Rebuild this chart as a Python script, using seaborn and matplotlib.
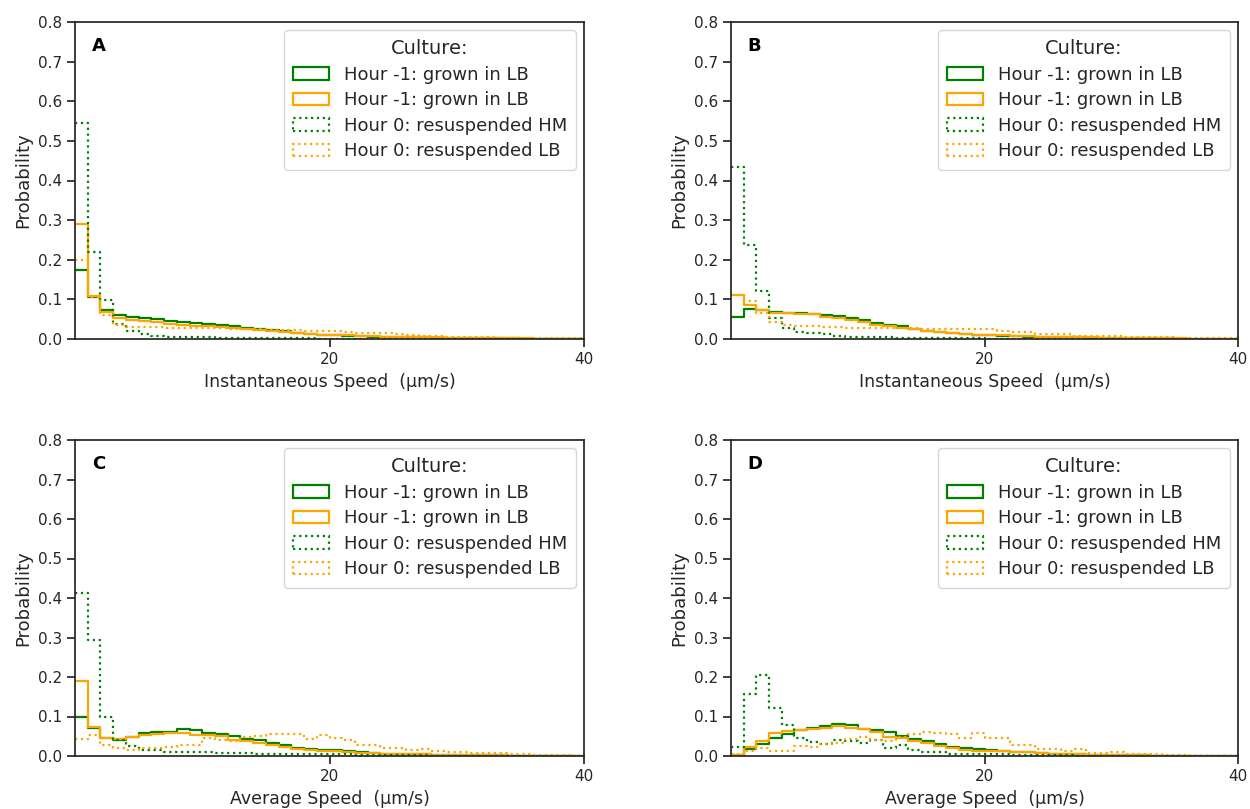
import numpy as np
import pandas as pd
import matplotlib
matplotlib.use("Agg")
import matplotlib.pyplot as plt
import matplotlib.patches as mpatches
import seaborn as sns

# ---------------- data (bin probabilities, bins of width 1 from 0 to 40) ----------------
bin_edges = list(range(0, 41))
bin_centers = [e + 0.5 for e in range(0, 40)]

series_labels = ["Hour -1: grown in LB", "Hour -1: grown in LB",
                 "Hour 0: resuspended HM", "Hour 0: resuspended LB"]
panel_letters = ["A", "B", "C", "D"]
x_labels = ["Instantaneous Speed  (µm/s)", "Instantaneous Speed  (µm/s)",
            "Average Speed  (µm/s)", "Average Speed  (µm/s)"]
y_ticks = [0.0, 0.1, 0.2, 0.3, 0.4, 0.5, 0.6, 0.7, 0.8]
x_ticks = [20, 40]

A_green_solid = [0.175, 0.105, 0.072, 0.060, 0.056, 0.053, 0.050, 0.046, 0.044, 0.041,
                 0.039, 0.036, 0.032, 0.028, 0.025, 0.023, 0.019, 0.016, 0.013, 0.011,
                 0.009, 0.008, 0.007, 0.006, 0.005, 0.005, 0.004, 0.004, 0.003, 0.003,
                 0.003, 0.002, 0.002, 0.002, 0.002, 0.001, 0.001, 0.001, 0.001, 0.001]
A_orange_solid = [0.290, 0.108, 0.068, 0.052, 0.048, 0.045, 0.042, 0.039, 0.036, 0.034,
                  0.032, 0.030, 0.027, 0.025, 0.023, 0.021, 0.018, 0.015, 0.013, 0.011,
                  0.010, 0.009, 0.008, 0.007, 0.006, 0.005, 0.005, 0.004, 0.004, 0.003,
                  0.003, 0.003, 0.002, 0.002, 0.002, 0.002, 0.001, 0.001, 0.001, 0.001]
A_green_dot = [0.545, 0.220, 0.098, 0.038, 0.020, 0.012, 0.008, 0.006, 0.005, 0.004,
               0.004, 0.003, 0.003, 0.003, 0.002, 0.002, 0.002, 0.002, 0.002, 0.001,
               0.001, 0.001, 0.001, 0.001, 0.001, 0.001, 0.001, 0.001, 0.001, 0.001,
               0.000, 0.000, 0.000, 0.000, 0.000, 0.000, 0.000, 0.000, 0.000, 0.000]
A_orange_dot = [0.200, 0.105, 0.060, 0.035, 0.031, 0.030, 0.030, 0.029, 0.029, 0.028,
                0.028, 0.027, 0.026, 0.025, 0.024, 0.023, 0.022, 0.022, 0.021, 0.021,
                0.020, 0.018, 0.016, 0.015, 0.014, 0.012, 0.010, 0.008, 0.007, 0.006,
                0.005, 0.004, 0.004, 0.003, 0.003, 0.003, 0.002, 0.002, 0.002, 0.002]

B_green_solid = [0.056, 0.075, 0.072, 0.067, 0.066, 0.066, 0.063, 0.061, 0.057, 0.053,
                 0.047, 0.041, 0.036, 0.032, 0.026, 0.021, 0.018, 0.016, 0.013, 0.011,
                 0.009, 0.008, 0.007, 0.006, 0.005, 0.005, 0.004, 0.004, 0.003, 0.003,
                 0.003, 0.002, 0.002, 0.002, 0.002, 0.001, 0.001, 0.001, 0.001, 0.001]
B_orange_solid = [0.111, 0.086, 0.073, 0.066, 0.065, 0.063, 0.062, 0.056, 0.053, 0.048,
                  0.042, 0.036, 0.032, 0.028, 0.024, 0.021, 0.018, 0.015, 0.013, 0.011,
                  0.010, 0.009, 0.008, 0.007, 0.006, 0.005, 0.005, 0.004, 0.004, 0.003,
                  0.003, 0.003, 0.002, 0.002, 0.002, 0.002, 0.001, 0.001, 0.001, 0.001]
B_green_dot = [0.435, 0.237, 0.120, 0.053, 0.027, 0.018, 0.016, 0.012, 0.008, 0.006,
               0.005, 0.004, 0.004, 0.003, 0.003, 0.002, 0.002, 0.002, 0.002, 0.002,
               0.001, 0.001, 0.001, 0.001, 0.001, 0.001, 0.001, 0.001, 0.001, 0.001,
               0.000, 0.000, 0.000, 0.000, 0.000, 0.000, 0.000, 0.000, 0.000, 0.000]
B_orange_dot = [0.110, 0.095, 0.065, 0.044, 0.035, 0.032, 0.032, 0.031, 0.031, 0.029,
                0.028, 0.028, 0.028, 0.027, 0.027, 0.026, 0.025, 0.025, 0.025, 0.025,
                0.024, 0.019, 0.018, 0.018, 0.013, 0.013, 0.012, 0.008, 0.008, 0.008,
                0.007, 0.006, 0.004, 0.004, 0.004, 0.003, 0.003, 0.003, 0.002, 0.002]

C_green_solid = [0.100, 0.072, 0.045, 0.040, 0.049, 0.058, 0.062, 0.062, 0.068, 0.065,
                 0.058, 0.055, 0.051, 0.043, 0.040, 0.034, 0.027, 0.021, 0.017, 0.015,
                 0.014, 0.012, 0.009, 0.008, 0.006, 0.005, 0.005, 0.004, 0.003, 0.003,
                 0.003, 0.002, 0.002, 0.002, 0.001, 0.001, 0.001, 0.001, 0.001, 0.001]
C_orange_solid = [0.191, 0.074, 0.045, 0.043, 0.049, 0.053, 0.055, 0.058, 0.058, 0.053,
                  0.053, 0.050, 0.040, 0.038, 0.032, 0.028, 0.024, 0.018, 0.014, 0.013,
                  0.012, 0.010, 0.008, 0.007, 0.006, 0.005, 0.004, 0.004, 0.003, 0.003,
                  0.002, 0.002, 0.002, 0.002, 0.001, 0.001, 0.001, 0.001, 0.001, 0.001]
C_green_dot = [0.413, 0.294, 0.098, 0.040, 0.025, 0.015, 0.015, 0.011, 0.011, 0.011,
               0.011, 0.008, 0.008, 0.008, 0.006, 0.006, 0.005, 0.005, 0.005, 0.004,
               0.004, 0.004, 0.003, 0.003, 0.003, 0.002, 0.002, 0.002, 0.001, 0.001,
               0.001, 0.001, 0.001, 0.001, 0.000, 0.000, 0.000, 0.000, 0.000, 0.000]
C_orange_dot = [0.042, 0.053, 0.028, 0.020, 0.015, 0.020, 0.020, 0.024, 0.029, 0.029,
                0.045, 0.040, 0.038, 0.047, 0.050, 0.056, 0.055, 0.055, 0.042, 0.053,
                0.045, 0.040, 0.028, 0.028, 0.020, 0.020, 0.014, 0.018, 0.012, 0.010,
                0.010, 0.008, 0.008, 0.008, 0.005, 0.004, 0.003, 0.002, 0.002, 0.001]

D_green_solid = [0.002, 0.017, 0.030, 0.045, 0.055, 0.066, 0.072, 0.077, 0.081, 0.079,
                 0.068, 0.066, 0.060, 0.051, 0.043, 0.037, 0.030, 0.024, 0.019, 0.017,
                 0.016, 0.013, 0.010, 0.009, 0.007, 0.006, 0.005, 0.004, 0.003, 0.003,
                 0.002, 0.002, 0.002, 0.001, 0.001, 0.001, 0.001, 0.001, 0.001, 0.001]
D_orange_solid = [0.003, 0.022, 0.038, 0.057, 0.064, 0.066, 0.068, 0.072, 0.075, 0.072,
                  0.068, 0.062, 0.048, 0.045, 0.037, 0.032, 0.026, 0.020, 0.016, 0.013,
                  0.013, 0.012, 0.010, 0.009, 0.008, 0.006, 0.005, 0.004, 0.003, 0.003,
                  0.002, 0.002, 0.002, 0.001, 0.001, 0.001, 0.001, 0.001, 0.001, 0.001]
D_green_dot = [0.023, 0.156, 0.205, 0.122, 0.078, 0.045, 0.036, 0.031, 0.040, 0.037,
               0.032, 0.040, 0.020, 0.028, 0.015, 0.011, 0.011, 0.006, 0.006, 0.005,
               0.004, 0.004, 0.003, 0.003, 0.002, 0.002, 0.002, 0.001, 0.001, 0.001,
               0.001, 0.001, 0.000, 0.000, 0.000, 0.000, 0.000, 0.000, 0.000, 0.000]
D_orange_dot = [0.005, 0.013, 0.020, 0.013, 0.013, 0.026, 0.023, 0.030, 0.034, 0.043,
                0.047, 0.040, 0.038, 0.048, 0.055, 0.060, 0.059, 0.056, 0.046, 0.057,
                0.045, 0.045, 0.028, 0.028, 0.017, 0.017, 0.012, 0.017, 0.008, 0.008,
                0.010, 0.004, 0.004, 0.004, 0.002, 0.002, 0.001, 0.001, 0.001, 0.001]

panels = [
    [A_green_solid, A_orange_solid, A_green_dot, A_orange_dot],
    [B_green_solid, B_orange_solid, B_green_dot, B_orange_dot],
    [C_green_solid, C_orange_solid, C_green_dot, C_orange_dot],
    [D_green_solid, D_orange_solid, D_green_dot, D_orange_dot],
]

# ---------------- styling ----------------
series_colors = ["green", "orange", "green", "orange"]
series_styles = ["-", "-", ":", ":"]

sns.set_theme(style="ticks")
plt.rcParams["font.family"] = ["DejaVu Sans"]
plt.rcParams["xtick.labelsize"] = 11
plt.rcParams["ytick.labelsize"] = 11

W, H = 1250, 809
fig = plt.figure(figsize=(W / 100, H / 100), dpi=100)

# axes rectangles in pixels: left, right, top, bottom
rects = [(75, 584, 22, 339), (731, 1238, 22, 339),
         (75, 584, 440, 756), (731, 1238, 440, 756)]

for i, (l, r, t, b) in enumerate(rects):
    ax = fig.add_axes([l / W, 1 - b / H, (r - l) / W, (b - t) / H])
    for vals, col, ls in zip(panels[i], series_colors, series_styles):
        sns.histplot(x=bin_centers, weights=vals, bins=bin_edges, stat="count",
                     element="step", fill=False, color=col, linestyle=ls,
                     linewidth=1.6, ax=ax)
    ax.set_xlim(0, 40)
    ax.set_ylim(0, 0.8)
    ax.set_xticks(x_ticks)
    ax.set_yticks(y_ticks)
    ax.set_yticklabels([f"{v:.1f}" for v in y_ticks])
    ax.set_xlabel(x_labels[i], fontsize=12.5, labelpad=4)
    ax.set_ylabel("Probability", fontsize=13, labelpad=4)
    ax.text(0.033, 0.925, panel_letters[i], transform=ax.transAxes,
            fontsize=13, fontweight="bold", ha="left", va="center", color="black")
    handles = [mpatches.Patch(facecolor="none", edgecolor=c, linestyle=s, linewidth=1.6)
               for c, s in zip(series_colors, series_styles)]
    leg = ax.legend(handles, series_labels, title="Culture:", loc="upper right",
                    fontsize=13, title_fontsize=14, frameon=True,
                    labelspacing=0.42, borderpad=0.5, borderaxespad=0.45)

fig.savefig("out.png", dpi=100)
